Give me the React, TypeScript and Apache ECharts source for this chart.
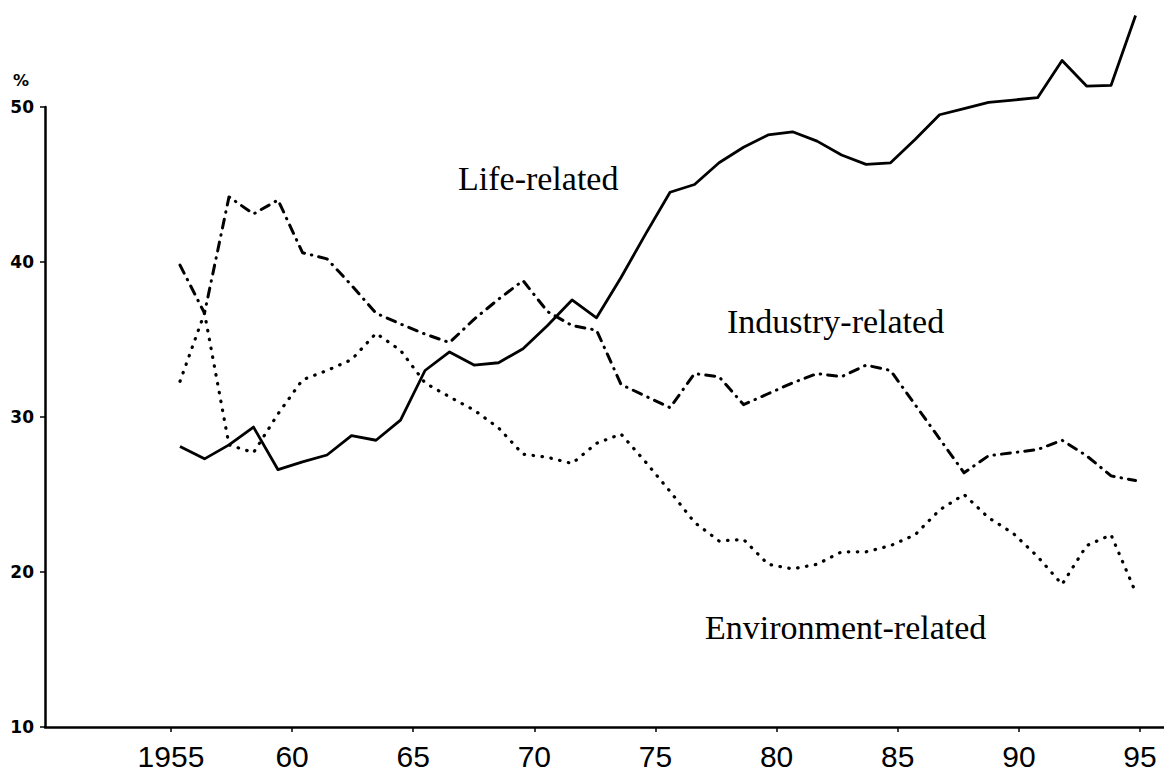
import React, { useEffect, useRef } from "react";
import * as echarts from "echarts";

// Years of the plotted series
const years = [
  1956, 1957, 1958, 1959, 1960, 1961, 1962, 1963, 1964, 1965,
  1966, 1967, 1968, 1969, 1970, 1971, 1972, 1973, 1974, 1975,
  1976, 1977, 1978, 1979, 1980, 1981, 1982, 1983, 1984, 1985,
  1986, 1987, 1988, 1989, 1990, 1991, 1992, 1993, 1994, 1995,
];

// Share (%) of each category
const lifeRelated = [
  28.1, 27.3, 28.2, 29.35, 26.6, 27.1, 27.55, 28.8, 28.5, 29.8,
  33.0, 34.2, 33.35, 33.5, 34.4, 35.9, 37.55, 36.4, 39.0, 41.8,
  44.5, 45.0, 46.4, 47.4, 48.2, 48.4, 47.8, 46.9, 46.3, 46.4,
  47.9, 49.5, 49.9, 50.3, 50.45, 50.6, 53.0, 51.35, 51.4, 55.9,
];

const industryRelated = [
  39.8, 36.7, 44.2, 43.1, 44.0, 40.6, 40.2, 38.5, 36.7, 36.0,
  35.35, 34.8, 36.3, 37.6, 38.8, 36.8, 35.9, 35.6, 32.1, 31.35,
  30.6, 32.8, 32.6, 30.8, 31.5, 32.2, 32.8, 32.6, 33.35, 33.0,
  30.8, 28.6, 26.4, 27.5, 27.7, 27.9, 28.5, 27.5, 26.2, 25.9,
];

const environmentRelated = [
  32.3, 36.7, 28.2, 27.7, 30.2, 32.4, 33.0, 33.7, 35.4, 34.3,
  32.2, 31.3, 30.45, 29.3, 27.6, 27.4, 27.0, 28.3, 28.9, 27.1,
  25.2, 23.2, 22.0, 22.1, 20.5, 20.2, 20.5, 21.3, 21.3, 21.7,
  22.4, 24.0, 25.0, 23.5, 22.5, 21.0, 19.2, 21.7, 22.4, 18.7,
];

// Printed x-axis ticks and their labels
const tickYears = [1955, 1960, 1965, 1970, 1975, 1980, 1985, 1990, 1995];
const tickLabels = ["1955", "60", "65", "70", "75", "80", "85", "90", "95"];

// Series labels
const seriesNames = ["Life-related", "Industry-related", "Environment-related"];

export default function App() {
  const ref = useRef<HTMLDivElement>(null);

  useEffect(() => {
    if (!ref.current) return;
    const chart = echarts.init(ref.current, null, { renderer: "svg" });
    const pairs = (vals: number[]) => years.map((y, i) => [y, vals[i]]);
    const black = "#000";

    chart.setOption({
      animation: false,
      backgroundColor: "#fff",
      grid: { left: 45, right: 0, top: 107, bottom: 48, containLabel: false },
      xAxis: [
        {
          type: "value",
          min: 1950.49,
          max: 1996.16,
          show: false,
        },
        {
          type: "value",
          position: "bottom",
          min: 1949.8,
          max: 1995.99,
          axisLine: { show: true, onZero: false, lineStyle: { color: black, width: 2.5 } },
          axisTick: {
            show: true,
            customValues: tickYears,
            length: 5,
            lineStyle: { color: black, width: 1.5 },
          },
          axisLabel: {
            customValues: tickYears,
            formatter: (v: number) => {
              const idx = tickYears.findIndex((t) => Math.abs(t - v) < 0.01);
              return idx >= 0 ? tickLabels[idx] : "";
            },
            color: black,
            fontSize: 30,
            lineHeight: 30,
            fontFamily: "Liberation Sans",
            margin: 14,
          },
          splitLine: { show: false },
        },
      ],
      yAxis: {
        type: "value",
        min: 10,
        max: 50,
        interval: 10,
        axisLine: { show: true, onZero: false, lineStyle: { color: black, width: 2.5 } },
        axisTick: { show: true, length: 5, lineStyle: { color: black, width: 1.5 } },
        axisLabel: {
          color: black,
          fontSize: 17,
          fontWeight: "bold",
          fontFamily: "DejaVu Sans",
          margin: 11,
        },
        splitLine: { show: false },
      },
      series: [
        {
          name: seriesNames[0],
          type: "line",
          xAxisIndex: 0,
          data: pairs(lifeRelated),
          symbol: "none",
          clip: false,
          lineStyle: { color: black, width: 2.8, type: "solid", join: "round" },
        },
        {
          name: seriesNames[1],
          type: "line",
          xAxisIndex: 0,
          data: pairs(industryRelated),
          symbol: "none",
          clip: false,
          lineStyle: { color: black, width: 3, type: [9, 7, 0.5, 7], cap: "round", join: "round" },
        },
        {
          name: seriesNames[2],
          type: "line",
          xAxisIndex: 0,
          data: pairs(environmentRelated),
          symbol: "none",
          clip: false,
          lineStyle: { color: black, width: 3.2, type: [0.5, 8.5], cap: "round", join: "round" },
        },
      ],
      graphic: [
        {
          type: "text",
          left: 13,
          top: 72,
          style: { text: "%", fill: black, font: 'bold 16px "DejaVu Sans"' },
        },
        {
          type: "text",
          x: 458,
          y: 178,
          style: {
            text: seriesNames[0],
            fill: black,
            font: '34px "Liberation Serif"',
            verticalAlign: "middle",
          },
        },
        {
          type: "text",
          x: 727,
          y: 321,
          style: {
            text: seriesNames[1],
            fill: black,
            font: '34px "Liberation Serif"',
            verticalAlign: "middle",
          },
        },
        {
          type: "text",
          x: 705,
          y: 627,
          style: {
            text: seriesNames[2],
            fill: black,
            font: '34px "Liberation Serif"',
            verticalAlign: "middle",
          },
        },
      ],
    });

    return () => chart.dispose();
  }, []);

  return (
    <div
      ref={ref}
      style={{ position: "fixed", left: 0, top: 0, width: 1164, height: 775 }}
    />
  );
}
